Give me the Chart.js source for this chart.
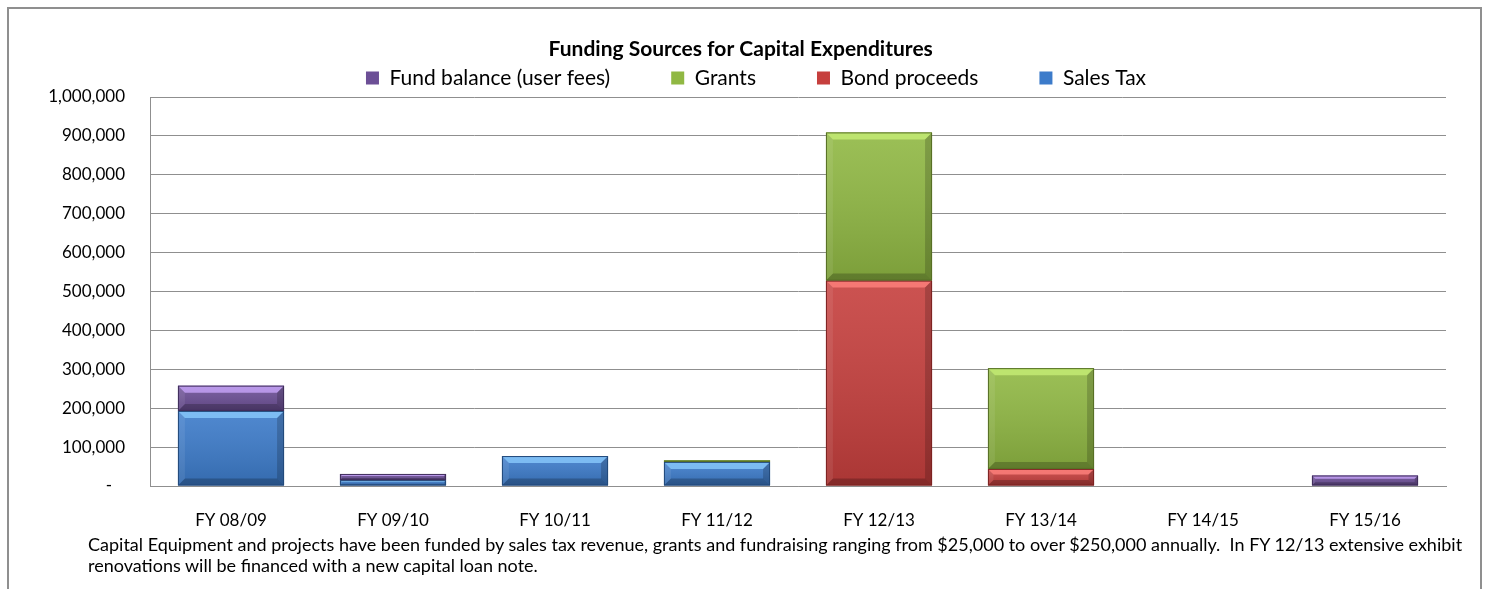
<!DOCTYPE html>
<html>
<head>
<meta charset="utf-8">
<script src="https://cdn.jsdelivr.net/npm/chart.js@4.4.1/dist/chart.umd.min.js"></script>
<style>
  html, body { margin: 0; padding: 0; background: #fff; overflow: hidden; }
  #frame {
    position: absolute; left: 7px; top: 7px; width: 1471px; height: 620px;
    border: 2px solid #8f8f8f; border-bottom: none;
  }
  #myChart { position: absolute; left: 0; top: 0; }
  #note {
    position: absolute; left: 88px; top: 534px; width: 1380px;
    font: 18px Lato, sans-serif; line-height: 21px; color: #000;
  }
</style>
</head>
<body>
<div id="frame"></div>
<canvas id="myChart" width="1487" height="589"></canvas>
<div id="note">Capital Equipment and projects have been funded by sales tax revenue, grants and fundraising ranging from $25,000 to over $250,000 annually.&nbsp; In FY 12/13 extensive exhibit renovations will be financed with a new capital loan note.</div>
<script>
const ctx = document.getElementById('myChart');

const years = ['FY 08/09', 'FY 09/10', 'FY 10/11', 'FY 11/12', 'FY 12/13', 'FY 13/14', 'FY 14/15', 'FY 15/16'];
const salesTax = [193000, 15000, 77000, 62000, null, null, null, null];
const bondProceeds = [null, null, null, null, 528000, 44000, null, null];
const grants = [null, null, null, 4000, 381000, 259000, null, null];
const fundBalance = [65000, 16000, null, null, null, null, null, 27000];
const yTicks = [0, 100000, 200000, 300000, 400000, 500000, 600000, 700000, 800000, 900000, 1000000];

// Excel-style bevelled edges drawn over each bar
const bevel = {
  id: 'bevel',
  afterDatasetsDraw(chart) {
    const c = chart.ctx;
    chart.data.datasets.forEach((ds, i) => {
      const meta = chart.getDatasetMeta(i);
      if (meta.hidden) return;
      meta.data.forEach((bar, j) => {
        if (ds.data[j] == null) return;
        const p = bar.getProps(['x', 'y', 'base', 'width'], true);
        const l = p.x - p.width / 2, r = p.x + p.width / 2;
        const t = Math.min(p.y, p.base), b = Math.max(p.y, p.base);
        const h = b - t;
        const e = Math.min(7, h / 3);
        c.save();
        // soft vertical shading
        const g = c.createLinearGradient(0, t, 0, b);
        g.addColorStop(0, 'rgba(255,255,255,0.10)');
        g.addColorStop(1, 'rgba(0,0,0,0.14)');
        c.fillStyle = g;
        c.fillRect(l, t, r - l, h);
        const poly = (pts, fill) => {
          c.beginPath();
          c.moveTo(pts[0], pts[1]);
          for (let k = 2; k < pts.length; k += 2) c.lineTo(pts[k], pts[k + 1]);
          c.closePath();
          c.fillStyle = fill;
          c.fill();
        };
        poly([l, t, r, t, r - e, t + e, l + e, t + e], ds.bevelTop);
        poly([l, b, r, b, r - e, b - e, l + e, b - e], 'rgba(0,0,0,0.22)');
        poly([l, t, l + e, t + e, l + e, b - e, l, b], 'rgba(255,255,255,0.08)');
        poly([r, t, r - e, t + e, r - e, b - e, r, b], 'rgba(0,0,0,0.18)');
        c.strokeStyle = ds.borderColor;
        c.lineWidth = 1;
        c.strokeRect(l + 0.5, t + 0.5, r - l - 1, h - 1);
        c.restore();
      });
    });
  }
};

const data = {
  labels: years,
  datasets: [{
    label: 'Sales Tax',
    data: salesTax,
    backgroundColor: '#3c7bca',
    borderColor: '#22497a',
    bevelTop: 'rgba(140,205,255,0.75)'
  }, {
    label: 'Bond proceeds',
    data: bondProceeds,
    backgroundColor: '#c63f3d',
    borderColor: '#7c2221',
    bevelTop: 'rgba(255,130,125,0.8)'
  }, {
    label: 'Grants',
    data: grants,
    backgroundColor: '#90b843',
    borderColor: '#566f25',
    bevelTop: 'rgba(200,240,120,0.75)'
  }, {
    label: 'Fund balance (user fees)',
    data: fundBalance,
    backgroundColor: '#6c4f96',
    borderColor: '#3f2d5a',
    bevelTop: 'rgba(200,165,250,0.8)'
  }]
};

const config = {
  type: 'bar',
  data: data,
  options: {
    responsive: false,
    animation: false,
    barPercentage: 0.655,
    categoryPercentage: 1,
    borderSkipped: false,
    layout: { padding: { left: 25, right: 0, top: 0, bottom: 53 } },
    plugins: {
      title: {
        display: true,
        // trailing spaces pull the centred title back to the frame's middle
        text: 'Funding Sources for Capital Expenditures      ',
        color: '#000',
        font: { family: 'Lato', size: 21, weight: 'bold' },
        padding: { top: 36.4, bottom: -55.1 }
      },
      legend: {
        display: true,
        reverse: true,
        maxHeight: 90.5,
        labels: {
          color: '#000',
          font: { family: 'Lato', size: 21 },
          boxWidth: 13,
          boxHeight: 13,
          padding: 61
        }
      },
      tooltip: { enabled: false }
    },
    scales: {
      x: {
        stacked: true,
        grid: { display: false, drawTicks: false },
        border: { color: '#8f8f8f', width: 1 },
        ticks: { color: '#000', font: { family: 'Lato', size: 17 }, padding: 24 },
        afterFit: s => { s.height = 50; }
      },
      y: {
        stacked: true,
        min: 0,
        max: 1000000,
        afterBuildTicks: s => { s.ticks = yTicks.map(v => ({ value: v })); },
        grid: { color: '#8f8f8f', lineWidth: 1, drawTicks: false },
        border: { color: '#8f8f8f', width: 1 },
        ticks: {
          color: '#000',
          font: { family: 'Lato', size: 17 },
          padding: 25,
          callback: v => v === 0 ? '-   ' : v.toLocaleString('en-US')
        },
        afterFit: s => { s.width = 125; }
      },
      // empty margin on the right of the plot
      yRight: {
        position: 'right',
        grid: { display: false, drawTicks: false },
        border: { display: false },
        ticks: { display: false },
        afterFit: s => { s.width = 41; }
      }
    }
  },
  plugins: [bevel]
};

let chart = new Chart(ctx, config);
</script>
</body>
</html>
